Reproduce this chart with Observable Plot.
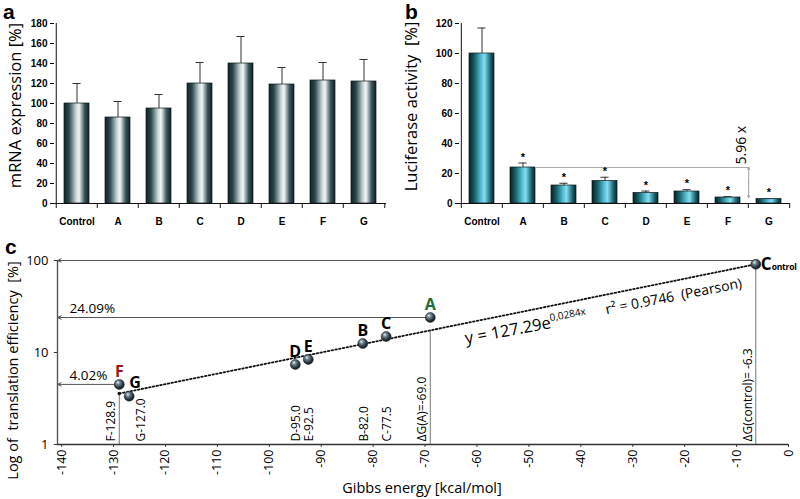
<!DOCTYPE html>
<html><head><meta charset="utf-8">
<script src="https://cdn.jsdelivr.net/npm/d3@7"></script>
<script src="https://cdn.jsdelivr.net/npm/@observablehq/plot@0.6"></script>
<style>
body{margin:0;background:#fff;}
#wrap{position:relative;width:800px;height:499px;overflow:hidden;background:#fff;}
.plabel{position:absolute;font:bold 21px "Liberation Sans",Arial,sans-serif;line-height:24px;color:#000;}
</style></head><body><div id="wrap"></div>
<script>
// ---------- data: panel a / b ----------
const categories = ["Control","A","B","C","D","E","F","G"];
const mrnaMean  = [100, 86, 95, 120, 140, 119, 123, 122];
const mrnaUpper = [120, 102, 109, 141, 167, 136, 141, 144];
const mrnaTicks = [0,20,40,60,80,100,120,140,160,180];
const lucMean   = [100, 24, 12, 15, 7, 8, 4, 3];
const lucUpper  = [117, 27, 13.5, 17.5, 8.3, 9.2, 4.6, 3.3];
const lucStar   = [false, true, true, true, true, true, true, true];
const lucTicks  = [0,20,40,60,80,100,120];
const foldFrom = "A", foldTo = "G", foldAt = "F";
const foldTop = 24, foldBottom = 4, foldLabel = "5.96 x";

// ---------- data: panel c ----------
const constructs  = ["Control","A","B","C","D","E","F","G"];
const gibbs       = [-6.3, -69.0, -82.0, -77.5, -95.0, -92.5, -128.9, -127.0];
const efficiency  = [91, 24.0, 12.5, 14.9, 7.4, 8.4, 4.5, 3.35];
const gibbsLabels = ["ΔG(control)= -6.3","ΔG(A)=-69.0","B-82.0","C-77.5","D-95.0","E-92.5","F-128.9","G-127.0"];
const guideFrom   = [-6.3, -69.0, -128.9];
const guideLevel  = [100, 24.0, 4.5];
const guideText   = ["", "24.09%", "4.02%"];
const dropTop     = [100, 17.4, 3.58];
const trendX      = [-128.9, -6.3];
const trendY      = [3.58, 91];
const xTicksC     = [-140,-130,-120,-110,-100,-90,-80,-70,-60,-50,-40,-30,-20,-10,0];
const yTicksC     = [1, 10, 100];
const eqText = "y = 127.29e", eqSup = "0,0284x";
const r2Text = "r² = 0.9746\u00a0\u00a0(Pearson)";

const wrap = document.getElementById("wrap");
const NS = "http://www.w3.org/2000/svg";
function addDefs(svg, markup){ const d=document.createElementNS(NS,"defs"); d.innerHTML=markup; svg.insertBefore(d, svg.firstChild); }
function place(node, left, top){ node.style.position="absolute"; node.style.left=left+"px"; node.style.top=top+"px"; wrap.appendChild(node); }

const gradDefs = `
<linearGradient id="gradA" x1="0" x2="1" y1="0" y2="0">
 <stop offset="0" stop-color="#102226"/><stop offset="0.2" stop-color="#2d474d"/>
 <stop offset="0.48" stop-color="#c9d6d8"/><stop offset="0.6" stop-color="#f3f7f7"/>
 <stop offset="0.82" stop-color="#3c575d"/><stop offset="1" stop-color="#0f2024"/>
</linearGradient>
<linearGradient id="gradB" x1="0" x2="1" y1="0" y2="0">
 <stop offset="0" stop-color="#06201f"/><stop offset="0.22" stop-color="#17606c"/>
 <stop offset="0.5" stop-color="#5cc3d8"/><stop offset="0.62" stop-color="#86dcee"/>
 <stop offset="0.85" stop-color="#1b6675"/><stop offset="1" stop-color="#062224"/>
</linearGradient>
<radialGradient id="sphere" cx="0.42" cy="0.38" r="0.62" fx="0.36" fy="0.3">
 <stop offset="0" stop-color="#eef3f4"/><stop offset="0.3" stop-color="#728890"/>
 <stop offset="0.75" stop-color="#25323a"/><stop offset="1" stop-color="#10181b"/>
</radialGradient>`;

function barPanel(o){
  const W=400,H=230,mt=23,mb=27;
  const n=categories.length, step=(W-o.ml-o.mr)/n, bw=step*0.6;
  const unit=o.yMax/(H-mt-mb);
  const rows=categories.map((c,i)=>({c,v:o.values[i],u:o.uppers[i],s:o.stars?o.stars[i]:false}));
  const marks=[
    Plot.barY(rows,{x:"c",y:"v",fill:`url(#${o.grad})`,stroke:"#0c1a1c",strokeWidth:0.7}),
    Plot.ruleX(rows,{x:"c",y1:"v",y2:"u",stroke:"#333",strokeWidth:1}),
    Plot.tickY(rows,{x:"c",y:"u",stroke:"#333",strokeWidth:1,insetLeft:(bw-8)/2,insetRight:(bw-8)/2}),
    Plot.ruleY([0],{stroke:"#111",strokeWidth:1}),
    Plot.ruleX([categories[0]],{x:d=>d,dx:-step/2,y1:0,y2:o.yMax,stroke:"#111",strokeWidth:1}),
    Plot.ruleX(categories,{x:d=>d,dx:-step/2,y1:0,y2:-5*unit,stroke:"#111"}),
    Plot.ruleX([categories[n-1]],{x:d=>d,dx:step/2,y1:0,y2:-5*unit,stroke:"#111"}),
    Plot.axisY({ticks:o.yTicks,tickSize:4,tickPadding:3,tickFormat:d=>String(d),fontWeight:"bold",fontSize:10}),
    Plot.text(categories,{x:d=>d,y:0,dy:18,text:d=>d,fontWeight:"bold",fontSize:10}),
    Plot.text([o.title],{text:d=>d,frameAnchor:"left",textAnchor:"middle",lineAnchor:"middle",dx:o.titleDx,dy:o.titleDy,rotate:-90,fontSize:16.5,fontWeight:"normal",fontFamily:"Open Sans"}),
    ...(o.extra?o.extra(step,bw):[])
  ];
  if (o.stars) marks.push(Plot.text(rows.filter(d=>d.s),{x:"c",y:"u",text:()=>"*",dy:-6,fontSize:11,fontWeight:"bold"}));
  const svg=Plot.plot({
    width:W,height:H,marginLeft:o.ml,marginRight:o.mr,marginTop:mt,marginBottom:mb,
    style:{fontFamily:"'Liberation Sans',Arial,sans-serif",fontSize:"10px",fontWeight:"bold",color:"#000",background:"transparent",overflow:"visible"},
    x:{domain:categories,paddingInner:0.4,paddingOuter:0.2,axis:null},
    y:{domain:[0,o.yMax],axis:null},
    marks
  });
  addDefs(svg,gradDefs);
  return svg;
}

const svgA = barPanel({values:mrnaMean,uppers:mrnaUpper,yMax:180,yTicks:mrnaTicks,ml:54,mr:14,grad:"gradA",
  title:"mRNA expression [%]",titleDx:-39,titleDy:-8});
place(svgA,0,0);

const fold=[{from:foldFrom,to:foldTo,at:foldAt,top:foldTop,bottom:foldBottom,mid:(foldTop+foldBottom)/2,label:foldLabel}];
const svgB = barPanel({values:lucMean,uppers:lucUpper,stars:lucStar,yMax:120,yTicks:lucTicks,ml:59,mr:10,grad:"gradB",
  title:"Luciferase activity\u00a0\u00a0[%]",titleDx:-48,titleDy:-7,
  extra:(step,bw)=>[
    Plot.arrow(fold,{x1:"from",x2:"to",y1:"top",y2:"top",headLength:0,insetStart:bw/2,insetEnd:step/2,stroke:"#aaa",strokeWidth:1}),
    Plot.arrow(fold,{x1:"at",x2:"at",y1:"mid",y2:"top",dx:step/2,headLength:4,stroke:"#888",strokeWidth:0.8}),
    Plot.arrow(fold,{x1:"at",x2:"at",y1:"mid",y2:"bottom",dx:step/2,headLength:4,stroke:"#888",strokeWidth:0.8}),
    Plot.text(fold,{x:"at",y:"top",text:"label",dx:step/2-7,dy:-3,rotate:-90,textAnchor:"start",fontSize:14,fontWeight:"normal",fontFamily:"Open Sans"})
  ]});
place(svgB,400,0);

// ---------- panel c ----------
const xMin=-140.8;
const pts=constructs.map((c,i)=>({c,x:gibbs[i],y:efficiency[i],gl:gibbsLabels[i]}));
const guides=guideFrom.map((x,i)=>({x,y:guideLevel[i],t:guideText[i]}));
const drops=guideFrom.map((x,i)=>({x,top:dropTop[i]}));
const trend=trendX.map((x,i)=>({x,y:trendY[i]}));
const byName=n=>pts.filter(d=>n.includes(d.c));
const lblFont={fontFamily:"Open Sans",fontSize:12,fill:"#000"};
const svgC=Plot.plot({
  width:800,height:269,marginLeft:57,marginRight:12,marginTop:30,marginBottom:55,
  style:{fontFamily:"Open Sans",fontSize:"12px",color:"#000",background:"transparent",overflow:"visible"},
  x:{domain:[xMin,0],axis:null},
  y:{type:"log",domain:[1,100],axis:null},
  marks:[
    Plot.ruleX(drops,{x:"x",y1:1,y2:"top",stroke:"#777",strokeWidth:1}),
    Plot.arrow(guides,{x1:"x",y1:"y",x2:xMin,y2:"y",headLength:6,headAngle:50,stroke:"#555",strokeWidth:1}),
    Plot.ruleY([1],{x1:xMin,x2:0,stroke:"#333",strokeWidth:1.4}),
    Plot.ruleX([xMin],{y1:0.985,y2:100,stroke:"#555",strokeWidth:1.4}),
    Plot.ruleX(xTicksC,{x:d=>d,y1:1,y2:0.93,stroke:"#333"}),
    Plot.text(xTicksC,{x:d=>d,y:1,text:d=>String(d),rotate:-90,textAnchor:"end",dy:5,fontSize:12.5}),
    Plot.ruleY(yTicksC,{y:d=>d,x1:xMin,x2:xMin-0.6,stroke:"#333"}),
    Plot.text(yTicksC,{x:xMin,y:d=>d,text:d=>String(d),dx:-9,textAnchor:"end",fontSize:13}),
    Plot.line(trend,{x:"x",y:"y",stroke:"#111",strokeWidth:1.8,strokeDasharray:"1.6,2.2"}),
    Plot.dot(trend.slice(0,1),{x:"x",y:"y",r:1.8,fill:"#111"}),
    Plot.dot(pts,{x:"x",y:"y",r:5,fill:"url(#sphere)",stroke:"#162024",strokeWidth:0.5}),
    Plot.text(byName(["B","C","D","E"]),{x:"x",y:"y",text:"c",dy:-13,fontSize:16,fontWeight:"bold",fill:"#000"}),
    Plot.text(byName(["G"]),{x:"x",y:"y",text:"c",dx:6,dy:-13,fontSize:16,fontWeight:"bold",fill:"#000"}),
    Plot.text(byName(["A"]),{x:"x",y:"y",text:"c",dy:-13,fontSize:16,fontWeight:"bold",fill:"#1d6e34"}),
    Plot.text(byName(["F"]),{x:"x",y:"y",text:"c",dy:-13,fontSize:16,fontWeight:"bold",fill:"#9a1616"}),
    Plot.text(byName(["Control"]),{x:"x",y:"y",text:"c",dx:5,textAnchor:"start",fontSize:17,fontWeight:"bold",fill:"#000"}),
    Plot.text(byName(["Control","A","F"]),{x:"x",y:1,text:"gl",rotate:-90,textAnchor:"start",dx:-8,dy:-3,...lblFont}),
    Plot.text(byName(["G"]),{x:"x",y:1,text:"gl",rotate:-90,textAnchor:"start",dx:12,dy:-3,...lblFont}),
    Plot.text(byName(["B","C","D","E"]),{x:"x",y:1,text:"gl",rotate:-90,textAnchor:"start",dx:1,dy:-3,...lblFont}),
    Plot.text(guides.filter(d=>d.t),{x:xMin,y:"y",text:"t",dx:12,dy:-9,textAnchor:"start",fontSize:13.5}),
    Plot.text([{x:-50.6,y:18.7}],{x:"x",y:"y",text:()=>eqText+eqSup,rotate:-10.5,fontSize:16.5}),
    Plot.text([{x:-22.1,y:40.6}],{x:"x",y:"y",text:()=>r2Text,rotate:-11,fontSize:14}),
    Plot.text(["Log of  translation efficiency  [%]"],{text:d=>d,frameAnchor:"left",textAnchor:"middle",lineAnchor:"middle",dx:-44,dy:18,rotate:-90,fontSize:14.5}),
    Plot.text(["Gibbs energy [kcal/mol]"],{text:d=>d,frameAnchor:"bottom",textAnchor:"middle",lineAnchor:"middle",dx:-1,dy:44,fontSize:14.5})
  ]
});
addDefs(svgC,gradDefs.replace(/id="grad/g,'id="c_grad'));
for (const t of svgC.querySelectorAll("text")){
  if (t.textContent===eqText+eqSup){
    t.textContent="";
    const a=document.createElementNS(NS,"tspan"); a.textContent=eqText;
    const b=document.createElementNS(NS,"tspan"); b.textContent=eqSup; b.setAttribute("font-size","10"); b.setAttribute("dy","-7");
    t.append(a,b);
  } else if (t.textContent==="Control"){
    t.textContent="";
    const a=document.createElementNS(NS,"tspan"); a.textContent="C";
    const b=document.createElementNS(NS,"tspan"); b.textContent="ontrol"; b.setAttribute("font-size","8.5"); b.setAttribute("letter-spacing","-0.2");
    t.append(a,b);
  }
}
place(svgC,0,230);

// panel letters
for (const [s,l,t] of [["a",3,0],["b",405,0],["c",5,235]]){
  const d=document.createElement("div"); d.className="plabel"; d.textContent=s; d.style.left=l+"px"; d.style.top=t+"px"; wrap.appendChild(d);
}
</script></body></html>
